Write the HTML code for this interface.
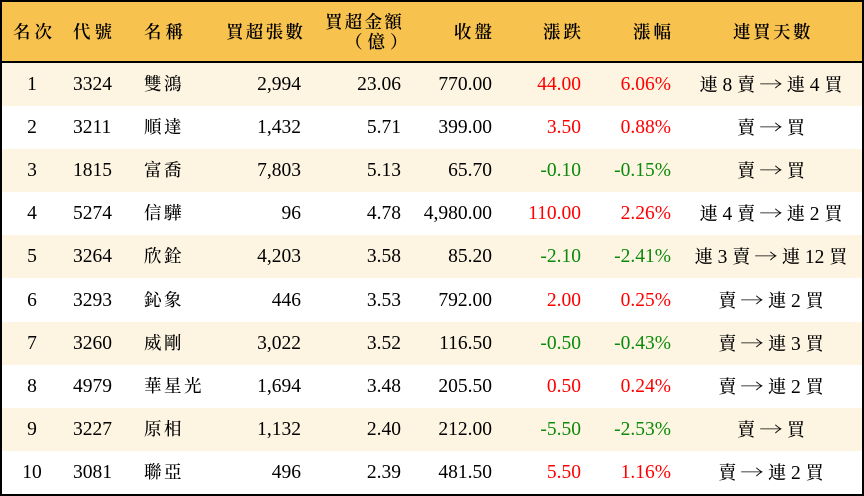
<!DOCTYPE html>
<html><head><meta charset="utf-8">
<style>
html,body{margin:0;padding:0;background:#fff;}
#c{position:relative;width:864px;height:496px;overflow:hidden;background:#fff;font-family:"Liberation Serif","Noto Serif CJK SC",serif;color:#000;}
.hd{position:absolute;left:0;top:0;width:864px;height:61px;background:#F8C24F;}
.hl{position:absolute;left:0;top:61px;width:864px;height:2px;background:#000;}
.bl{position:absolute;left:0;top:0;width:2px;height:496px;background:#000;}
.br{position:absolute;right:0;top:0;width:2.5px;height:496px;background:#000;}
.bt{position:absolute;left:0;top:0;width:864px;height:2px;background:#000;}
.bb{position:absolute;left:0;bottom:0;width:864px;height:2.5px;background:#000;}
.h{position:absolute;font-size:17.5px;line-height:20px;white-space:nowrap;font-weight:600;}
.row{position:absolute;left:0;width:864px;height:43.1px;}
.row.s{background:#FDF5E2;}
.t{position:absolute;top:0;line-height:43px;font-size:19.5px;white-space:nowrap;}
.cj{font-size:17.5px;letter-spacing:2.5px;font-weight:500;}
.r{color:#FF0000;}
.g{color:#0A8A0A;}
.c1{left:0;width:64px;text-align:center;}
.c2{left:73px;}
.c3{left:144px;}
.c4{right:563px;}
.c5{right:463px;}
.c6{right:372px;}
.c7{right:283px;}
.c8{right:193px;}
.c9{left:681px;width:180px;text-align:center;}
.d{font-size:19.5px;}
.d b{font-weight:500;font-size:18px;}
.d i{font-style:normal;font-family:"Noto Serif CJK SC","DejaVu Serif",serif;font-size:18px;display:inline-block;transform:scaleX(1.3);margin:0 2px;}
</style></head><body>
<div id="c">
<div class="hd"></div>
<div class="h" style="left:13px;top:22px;letter-spacing:4px;">名次</div>
<div class="h" style="left:73px;top:22px;letter-spacing:4px;">代號</div>
<div class="h" style="left:144px;top:22px;letter-spacing:4px;">名稱</div>
<div class="h" style="left:226px;top:22px;letter-spacing:2.3px;">買超張數</div>
<div class="h" style="left:325px;top:12px;letter-spacing:2.3px;">買超金額</div>
<div class="h" style="left:345px;top:32px;letter-spacing:5px;">（億）</div>
<div class="h" style="left:454px;top:22px;letter-spacing:3px;">收盤</div>
<div class="h" style="left:543px;top:22px;letter-spacing:3px;">漲跌</div>
<div class="h" style="left:633px;top:22px;letter-spacing:3px;">漲幅</div>
<div class="h" style="left:733px;top:22px;letter-spacing:2.5px;">連買天數</div>
<div class="hl"></div>

<div class="row s" style="top:63px;">
<div class="t c1">1</div><div class="t c2">3324</div><div class="t c3 cj">雙鴻</div><div class="t c4">2,994</div><div class="t c5">23.06</div><div class="t c6">770.00</div><div class="t c7 r">44.00</div><div class="t c8 r">6.06%</div><div class="t c9 d"><b>連</b> 8 <b>賣</b> <i>→</i> <b>連</b> 4 <b>買</b></div>
</div>
<div class="row" style="top:106.1px;">
<div class="t c1">2</div><div class="t c2">3211</div><div class="t c3 cj">順達</div><div class="t c4">1,432</div><div class="t c5">5.71</div><div class="t c6">399.00</div><div class="t c7 r">3.50</div><div class="t c8 r">0.88%</div><div class="t c9 d"><b>賣</b> <i>→</i> <b>買</b></div>
</div>
<div class="row s" style="top:149.2px;">
<div class="t c1">3</div><div class="t c2">1815</div><div class="t c3 cj">富喬</div><div class="t c4">7,803</div><div class="t c5">5.13</div><div class="t c6">65.70</div><div class="t c7 g">-0.10</div><div class="t c8 g">-0.15%</div><div class="t c9 d"><b>賣</b> <i>→</i> <b>買</b></div>
</div>
<div class="row" style="top:192.3px;">
<div class="t c1">4</div><div class="t c2">5274</div><div class="t c3 cj">信驊</div><div class="t c4">96</div><div class="t c5">4.78</div><div class="t c6">4,980.00</div><div class="t c7 r">110.00</div><div class="t c8 r">2.26%</div><div class="t c9 d"><b>連</b> 4 <b>賣</b> <i>→</i> <b>連</b> 2 <b>買</b></div>
</div>
<div class="row s" style="top:235.4px;">
<div class="t c1">5</div><div class="t c2">3264</div><div class="t c3 cj">欣銓</div><div class="t c4">4,203</div><div class="t c5">3.58</div><div class="t c6">85.20</div><div class="t c7 g">-2.10</div><div class="t c8 g">-2.41%</div><div class="t c9 d"><b>連</b> 3 <b>賣</b> <i>→</i> <b>連</b> 12 <b>買</b></div>
</div>
<div class="row" style="top:278.5px;">
<div class="t c1">6</div><div class="t c2">3293</div><div class="t c3 cj">鈊象</div><div class="t c4">446</div><div class="t c5">3.53</div><div class="t c6">792.00</div><div class="t c7 r">2.00</div><div class="t c8 r">0.25%</div><div class="t c9 d"><b>賣</b> <i>→</i> <b>連</b> 2 <b>買</b></div>
</div>
<div class="row s" style="top:321.6px;">
<div class="t c1">7</div><div class="t c2">3260</div><div class="t c3 cj">威剛</div><div class="t c4">3,022</div><div class="t c5">3.52</div><div class="t c6">116.50</div><div class="t c7 g">-0.50</div><div class="t c8 g">-0.43%</div><div class="t c9 d"><b>賣</b> <i>→</i> <b>連</b> 3 <b>買</b></div>
</div>
<div class="row" style="top:364.7px;">
<div class="t c1">8</div><div class="t c2">4979</div><div class="t c3 cj">華星光</div><div class="t c4">1,694</div><div class="t c5">3.48</div><div class="t c6">205.50</div><div class="t c7 r">0.50</div><div class="t c8 r">0.24%</div><div class="t c9 d"><b>賣</b> <i>→</i> <b>連</b> 2 <b>買</b></div>
</div>
<div class="row s" style="top:407.8px;">
<div class="t c1">9</div><div class="t c2">3227</div><div class="t c3 cj">原相</div><div class="t c4">1,132</div><div class="t c5">2.40</div><div class="t c6">212.00</div><div class="t c7 g">-5.50</div><div class="t c8 g">-2.53%</div><div class="t c9 d"><b>賣</b> <i>→</i> <b>買</b></div>
</div>
<div class="row" style="top:450.9px;">
<div class="t c1">10</div><div class="t c2">3081</div><div class="t c3 cj">聯亞</div><div class="t c4">496</div><div class="t c5">2.39</div><div class="t c6">481.50</div><div class="t c7 r">5.50</div><div class="t c8 r">1.16%</div><div class="t c9 d"><b>賣</b> <i>→</i> <b>連</b> 2 <b>買</b></div>
</div>

<div class="bt"></div><div class="bl"></div><div class="br"></div><div class="bb"></div>
</div>
</body></html>
